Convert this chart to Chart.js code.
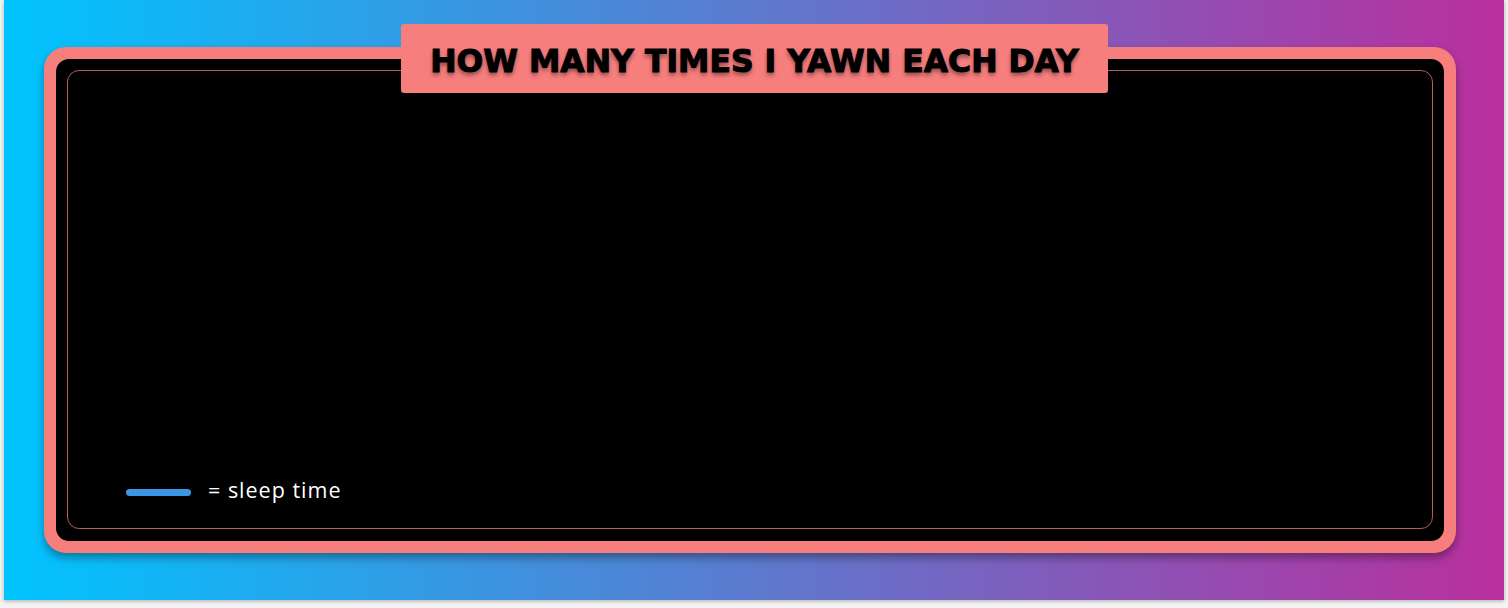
<!DOCTYPE html>
<html>
<head>
<meta charset="utf-8">
<script src="https://cdn.jsdelivr.net/npm/chart.js@4"></script>
<style>
  html, body { margin: 0; padding: 0; width: 1508px; height: 608px; background: #f4f4f4; overflow: hidden; }
  #card { position: absolute; left: 4px; top: 0; width: 1500px; height: 600px;
    background: linear-gradient(90deg, #00C4FF 0%, #B92F9E 100%);
    box-shadow: 0 1px 4px rgba(0,0,0,0.3); }
  #frame { position: absolute; left: 44px; top: 47px; width: 1412px; height: 506px;
    background: #F67E7D; border-radius: 22px; box-shadow: 0 5px 8px rgba(0,0,0,0.35); }
  #black { position: absolute; left: 56px; top: 59px; width: 1388px; height: 482px;
    background: #000; border-radius: 13px; }
  #line { position: absolute; left: 67px; top: 70px; width: 1364px; height: 457px;
    border: 1.5px solid #B45E5E; border-radius: 12px; }
  #chartBox { position: absolute; left: 80px; top: 100px; width: 1340px; height: 370px; }
  #titleBox { position: absolute; left: 401px; top: 24px; width: 707px; height: 69px;
    background: #F67E7D; border-radius: 3px; }
  #title { position: absolute; left: 401px; top: 26px; width: 707px; height: 69px;
    line-height: 71px; text-align: center; font-family: "DejaVu Sans", sans-serif;
    font-weight: bold; font-size: 31.5px; color: #000; -webkit-text-stroke: 1px #000;
    text-shadow: 0 3px 4px rgba(0,0,0,0.45); white-space: nowrap; }
  #legLine { position: absolute; left: 126px; top: 489px; width: 65px; height: 7px;
    border-radius: 4px; background: #3A97E4; }
  #legText { position: absolute; left: 208px; top: 476px; font-family: "Open Sans", sans-serif;
    font-weight: 400; font-size: 21.5px; letter-spacing: 1px; line-height: 28px; color: #fff; white-space: nowrap; }
</style>
</head>
<body>
<div id="card"></div>
<div id="frame"></div>
<div id="black"></div>
<div id="line"></div>
<div id="chartBox"><canvas id="c"></canvas></div>
<div id="titleBox"></div>
<div id="title">HOW MANY TIMES I YAWN EACH DAY</div>
<div id="legLine"></div>
<div id="legText">= sleep time</div>
<script>
// The reference shows no plotted marks: the series are empty.
const categories = [];
const yawnCounts = [];
const sleepTime = [];
const tickLabels = [];

new Chart(document.getElementById('c'), {
  type: 'line',
  data: {
    labels: categories,
    datasets: [
      { label: 'yawns', data: yawnCounts, borderColor: '#F67E7D' },
      { label: 'sleep time', data: sleepTime, borderColor: '#3A97E4' }
    ]
  },
  options: {
    responsive: true,
    maintainAspectRatio: false,
    animation: false,
    plugins: { legend: { display: false }, tooltip: { enabled: false } },
    scales: {
      x: { display: false },
      y: { display: false, ticks: { callback: (v, i) => tickLabels[i] ?? '' } }
    }
  }
});
</script>
</body>
</html>
